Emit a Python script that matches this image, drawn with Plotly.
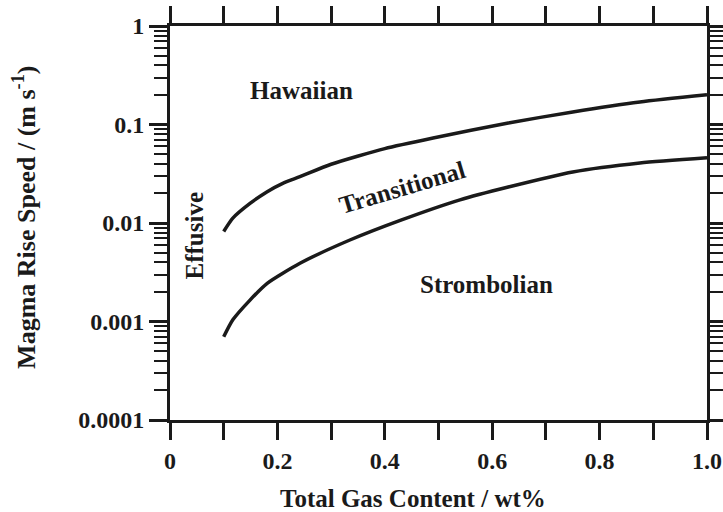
import math
import plotly.graph_objects as go

# Boundary curves (Total gas content wt%, magma rise speed m/s)
upper_x = [0.10, 0.117, 0.149, 0.181, 0.21, 0.242, 0.30, 0.40, 0.49, 0.63, 0.75, 0.875, 1.0]
upper_y = [0.0082, 0.0112, 0.0158, 0.0208, 0.0253, 0.0295, 0.0395, 0.0569, 0.0729, 0.1036, 0.134, 0.169, 0.20]
lower_x = [0.10, 0.117, 0.149, 0.181, 0.242, 0.335, 0.43, 0.54, 0.63, 0.75, 0.875, 1.0]
lower_y = [0.0007, 0.00104, 0.00165, 0.00244, 0.0039, 0.00672, 0.0107, 0.0172, 0.0232, 0.033, 0.0407, 0.046]

x_tickvals = [0, 0.2, 0.4, 0.6, 0.8, 1.0]
x_ticktext = ["0", "0.2", "0.4", "0.6", "0.8", "1.0"]
y_tickvals = [0.0001, 0.001, 0.01, 0.1, 1]
y_ticktext = ["0.0001", "0.001", "0.01", "0.1", "1"]

regions = [
    ("Hawaiian", 0.244, 0.224, 0),
    ("Transitional", 0.432, 0.0232, -16.5),
    ("Strombolian", 0.59, 0.00235, 0),
    ("Effusive", 0.045, 0.0075, -90),
]

FONT = "Liberation Serif"
INK = "#1a1a1a"

fig = go.Figure()
for xs, ys in [(upper_x, upper_y), (lower_x, lower_y)]:
    fig.add_trace(go.Scatter(x=xs, y=ys, mode="lines",
                             line=dict(color=INK, width=3.5, shape="spline", smoothing=0.6),
                             showlegend=False, hoverinfo="skip"))

for text, x, y, ang in regions:
    fig.add_annotation(x=x, y=math.log10(y), yref="y", xref="x", text="<b>%s</b>" % text,
                       showarrow=False, textangle=ang, xanchor="center", yanchor="middle",
                       font=dict(family=FONT, size=25, color=INK))

# axis titles
fig.add_annotation(x=0.4525, y=-0.2, xref="paper", yref="paper",
                   xanchor="center", yanchor="middle",
                   text="<b>Total Gas Content / wt%</b>", showarrow=False,
                   font=dict(family=FONT, size=25, color=INK))
fig.add_annotation(x=-0.27, y=0.513, xref="paper", yref="paper", textangle=-90,
                   xanchor="center", yanchor="middle",
                   text="<b>Magma Rise Speed / (m s<sup>-1</sup>)</b>", showarrow=False,
                   font=dict(family=FONT, size=26, color=INK))

fig.update_layout(
    width=723, height=512,
    margin=dict(l=170, r=16, t=26, b=92),
    plot_bgcolor="white", paper_bgcolor="white",
    font=dict(family=FONT, size=22, color=INK),
)
fig.update_xaxes(
    range=[0, 1.0], tickvals=x_tickvals, ticktext=x_ticktext,
    ticks="outside", ticklen=17, tickwidth=3, tickcolor=INK,
    minor=dict(ticks="outside", ticklen=17, tickwidth=3, tickcolor=INK,
               dtick=0.1, showgrid=False),
    showline=True, linewidth=3, linecolor=INK, mirror="ticks",
    showgrid=False, zeroline=False, automargin=False,
    tickfont=dict(family=FONT, size=24, color=INK, weight="bold"),
)
fig.update_yaxes(
    type="log", range=[-4, 0], tickvals=y_tickvals, ticktext=y_ticktext,
    ticks="outside", ticklen=18, tickwidth=3, tickcolor=INK,
    minor=dict(ticks="outside", ticklen=13, tickwidth=2, tickcolor=INK,
               dtick="D1", showgrid=False),
    showline=True, linewidth=3, linecolor=INK, mirror="ticks",
    showgrid=False, zeroline=False, automargin=False,
    tickfont=dict(family=FONT, size=24, color=INK, weight="bold"),
)

fig.write_html("out.html")
